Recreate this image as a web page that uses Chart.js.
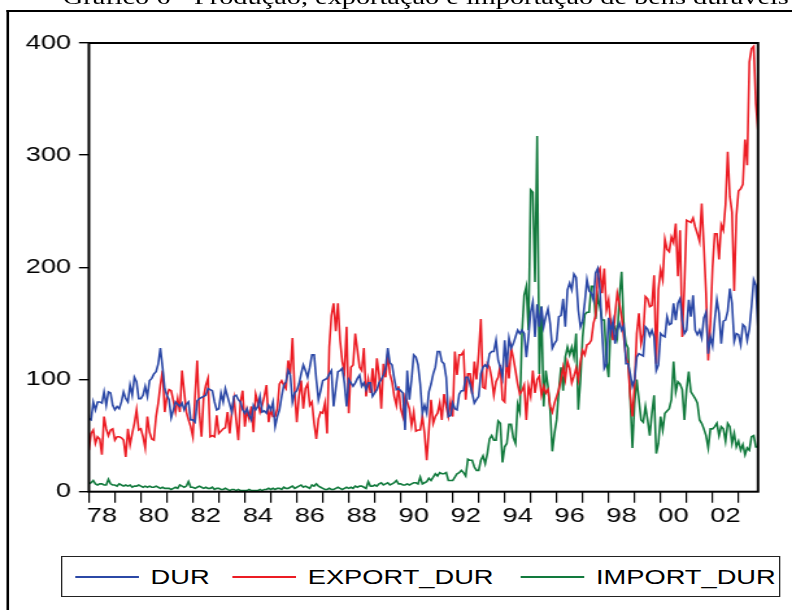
<!DOCTYPE html>
<html>
<head>
<meta charset="utf-8">
<script src="https://cdn.jsdelivr.net/npm/chart.js@4.4.1/dist/chart.umd.min.js"></script>
<style>
  html, body { margin: 0; padding: 0; background: #fff; overflow: hidden; width: 792px; height: 610px; }
  #stage { position: absolute; left: 0; top: 0; width: 610px; height: 610px; transform-origin: 0 0;
           font-family: "Liberation Sans", Arial, sans-serif; }
  #frame { position: absolute; left: 5.4px; top: 10px; width: 800px; height: 800px;
           border-left: 2px solid #000; border-top: 2px solid #000; }
  #title { position: absolute; top: -15px; left: 0; width: 656px; text-align: center; white-space: nowrap;
           font: 21.8px/25px "Liberation Serif", "Times New Roman", serif; color: #000; }
  #chartBox { position: absolute; left: 0; top: 0; width: 610px; height: 610px; }
  #legend { position: absolute; left: 47px; top: 556px; width: 554px; height: 41px;
            border: 1px solid #222; box-sizing: border-box; background: #fff; }
  #legend .swatch { position: absolute; top: 19px; height: 1.5px; }
  #legend .name { position: absolute; top: 0; line-height: 39px; font-size: 21px; color: #000; white-space: nowrap; }
</style>
</head>
<body>
<div id="stage">
  <div id="title">Gráfico 6 - Produção, exportação e importação de bens duráveis</div>
  <div id="frame"></div>
  <div id="chartBox"><canvas id="myChart"></canvas></div>
  <div id="legend"></div>
</div>
<script>
// monthly series, 1978:01 onwards
const startYear = 1978

const dur = [
  65, 64, 80, 73, 80, 80, 79, 89, 77, 89, 88, 77,
  73, 76, 74, 80, 89, 83, 80, 95, 86, 102, 98, 83,
  83, 86, 94, 85, 99, 101, 105, 107, 114, 128, 111, 92,
  86, 82, 66, 73, 80, 78, 76, 79, 73, 78, 80, 64,
  64, 62, 81, 83, 84, 85, 86, 92, 91, 90, 80, 73,
  74, 88, 80, 92, 85, 78, 71, 85, 86, 82, 80, 73,
  70, 74, 68, 64, 77, 73, 76, 85, 71, 72, 70, 77,
  73, 80, 58, 67, 73, 85, 95, 98, 108, 104, 80, 88,
  90, 96, 105, 113, 108, 102, 111, 122, 122, 100, 82, 90,
  99, 100, 101, 105, 108, 76, 92, 107, 108, 110, 97, 76,
  100, 97, 94, 97, 101, 104, 94, 97, 91, 97, 97, 85,
  88, 91, 97, 100, 104, 110, 128, 115, 113, 101, 91, 92,
  90, 88, 55, 108, 82, 100, 122, 120, 113, 96, 70, 77,
  70, 89, 96, 105, 111, 125, 125, 116, 114, 102, 67, 68,
  79, 74, 73, 87, 90, 90, 102, 102, 96, 88, 79, 82,
  85, 105, 111, 113, 111, 123, 125, 125, 135, 117, 111, 102,
  135, 111, 137, 128, 132, 138, 144, 141, 144, 141, 120, 138,
  160, 169, 138, 167, 147, 165, 147, 156, 163, 150, 128, 132,
  135, 156, 157, 172, 147, 180, 186, 180, 194, 191, 162, 147,
  152, 169, 189, 179, 177, 171, 195, 199, 180, 141, 110, 114,
  155, 142, 152, 132, 144, 150, 144, 148, 114, 114, 105, 94,
  100, 120, 123, 122, 121, 147, 145, 139, 144, 138, 108, 113,
  141, 139, 138, 156, 149, 150, 168, 153, 168, 172, 153, 141,
  144, 171, 156, 175, 144, 140, 144, 137, 155, 160, 123, 138,
  130, 153, 171, 159, 132, 152, 153, 161, 181, 168, 134, 141,
  140, 131, 149, 147, 135, 145, 165, 189, 184, 147
]

const exportDur = [
  37, 52, 55, 43, 49, 47, 33, 67, 56, 50, 55, 56,
  46, 49, 49, 48, 46, 31, 56, 42, 52, 61, 73, 55,
  56, 49, 39, 67, 53, 47, 46, 67, 79, 95, 108, 71,
  85, 91, 90, 81, 71, 83, 71, 108, 89, 71, 64, 58,
  49, 85, 117, 70, 49, 85, 95, 101, 49, 50, 49, 68,
  52, 54, 56, 57, 71, 52, 71, 83, 64, 46, 80, 90,
  58, 73, 65, 76, 53, 87, 80, 71, 77, 85, 95, 62,
  73, 67, 67, 74, 96, 99, 95, 92, 117, 105, 137, 90,
  62, 85, 99, 74, 92, 96, 77, 80, 61, 47, 65, 71,
  70, 79, 52, 129, 157, 168, 143, 168, 135, 116, 107, 147,
  70, 111, 113, 141, 126, 111, 108, 128, 85, 100, 88, 110,
  88, 119, 104, 74, 114, 102, 123, 105, 98, 85, 77, 94,
  74, 67, 85, 80, 74, 59, 71, 54, 55, 55, 67, 52,
  28, 55, 82, 61, 67, 70, 79, 64, 87, 76, 67, 80,
  67, 125, 104, 122, 122, 125, 82, 105, 105, 87, 116, 100,
  123, 154, 93, 92, 114, 111, 101, 86, 98, 102, 113, 82,
  80, 120, 101, 128, 119, 108, 96, 87, 90, 95, 64, 94,
  85, 108, 88, 100, 103, 86, 94, 88, 91, 76, 71, 79,
  85, 91, 100, 111, 100, 116, 110, 97, 103, 110, 100, 116,
  126, 122, 131, 132, 135, 150, 157, 195, 199, 177, 199, 162,
  171, 149, 135, 159, 177, 168, 156, 138, 120, 114, 85, 67,
  95, 141, 159, 132, 141, 174, 172, 165, 166, 193, 114, 180,
  198, 189, 225, 216, 214, 227, 222, 239, 192, 233, 138, 183,
  242, 241, 240, 244, 236, 230, 223, 257, 219, 177, 117, 150,
  200, 230, 230, 207, 238, 233, 256, 303, 263, 249, 179, 246,
  268, 270, 274, 314, 291, 383, 395, 397, 346, 322
]

const importDur = [
  7, 8, 10, 7, 6, 7, 7, 6, 6, 11, 7, 6,
  6, 5, 7, 6, 5, 6, 5, 6, 4, 5, 5, 6,
  5, 4, 5, 4, 5, 4, 4, 5, 4, 3, 4, 3,
  3, 3, 2, 3, 4, 3, 6, 5, 4, 5, 9, 4,
  4, 3, 4, 5, 4, 3, 4, 3, 3, 4, 2, 3,
  3, 2, 2, 3, 2, 1, 2, 2, 1, 2, 1, 1,
  1, 1, 2, 1, 1, 1, 1, 2, 1, 2, 2, 3,
  2, 3, 2, 3, 3, 2, 4, 3, 3, 4, 5, 3,
  4, 5, 6, 4, 5, 4, 3, 6, 5, 7, 5, 4,
  3, 2, 2, 3, 2, 2, 3, 4, 3, 2, 3, 4,
  3, 4, 3, 5, 4, 5, 5, 4, 3, 9, 5, 5,
  6, 5, 7, 8, 6, 7, 8, 6, 7, 8, 10, 7,
  7, 6, 6, 7, 6, 7, 8, 8, 7, 13, 7, 8,
  9, 12, 10, 13, 16, 14, 17, 16, 16, 17, 10, 10,
  10, 13, 16, 17, 19, 17, 14, 29, 28, 28, 22, 19,
  19, 28, 32, 25, 34, 47, 50, 46, 46, 63, 61, 26,
  40, 43, 60, 60, 48, 43, 78, 71, 141, 175, 183, 144,
  269, 267, 187, 317, 105, 165, 76, 108, 94, 73, 36, 52,
  64, 90, 111, 90, 120, 129, 122, 129, 120, 141, 73, 100,
  138, 158, 160, 160, 183, 183, 154, 174, 165, 153, 153, 117,
  102, 151, 145, 147, 138, 174, 196, 147, 132, 128, 82, 39,
  79, 100, 82, 64, 62, 76, 64, 50, 70, 86, 34, 43,
  67, 55, 70, 72, 74, 82, 116, 89, 98, 96, 91, 64,
  91, 107, 89, 86, 83, 79, 64, 61, 56, 50, 39, 56,
  56, 58, 61, 50, 58, 56, 45, 61, 58, 43, 52, 40,
  45, 37, 42, 33, 39, 37, 49, 50, 40, 40
]

const seriesNames = ['DUR', 'EXPORT_DUR', 'IMPORT_DUR']
const seriesColors = ['#2b48a6', '#ec1c24', '#127a3d']
const yTicks = [0, 100, 200, 300, 400]

// the whole drawing is a bit wider than tall, stretch it sideways
const stretch = 792 / 610
document.getElementById('stage').style.transform = 'scaleX(' + stretch + ')'

const months = dur.map((v, i) => startYear + i / 12)
const lastX = months[months.length - 1]
const years = []
for (let y = startYear; y <= Math.floor(lastX); y++) years.push(y)

// plot box in stage units
const plotLeft = 88.9 / stretch
const plotRight = 758 / stretch
const halfYear = (plotRight - plotLeft) / (lastX - startYear) / 2

// legend below the plot
const legendPos = [[57, 106, 115], [178, 227, 236], [400, 449, 458]]
const legend = document.getElementById('legend')
seriesNames.forEach((name, i) => {
  const line = document.createElement('div')
  line.className = 'swatch'
  line.style.left = (legendPos[i][0] - 47) + 'px'
  line.style.width = (legendPos[i][1] - legendPos[i][0]) + 'px'
  line.style.background = seriesColors[i]
  legend.appendChild(line)
  const txt = document.createElement('div')
  txt.className = 'name'
  txt.style.left = (legendPos[i][2] - 47) + 'px'
  txt.textContent = name
  legend.appendChild(txt)
})

const plotFrame = {
  id: 'plotFrame',
  afterDatasetsDraw(chart) {
    const { ctx, chartArea: a } = chart
    ctx.save()
    ctx.strokeStyle = '#000'
    ctx.lineWidth = 2
    ctx.strokeRect(a.left, a.top, a.right - a.left, a.bottom - a.top)
    ctx.restore()
  }
}

Chart.defaults.font.family = '"Liberation Sans", Arial, sans-serif'
Chart.defaults.color = '#000'

const ctx = document.getElementById('myChart')
const allSeries = [dur, exportDur, importDur]

const myChart = new Chart(ctx, {
  type: 'line',
  data: {
    labels: months,
    datasets: allSeries.map((vals, i) => ({
      label: seriesNames[i],
      data: vals,
      borderColor: seriesColors[i],
      borderWidth: 1.6,
      pointRadius: 0,
      tension: 0,
      fill: false
    }))
  },
  options: {
    responsive: true,
    maintainAspectRatio: false,
    animation: false,
    events: [],
    layout: { padding: { left: plotLeft - 50, right: 610 - plotRight, top: 43, bottom: 610 - 491.7 - 40 } },
    plugins: { legend: { display: false }, tooltip: { enabled: false } },
    scales: {
      x: {
        type: 'linear',
        min: startYear,
        max: lastX,
        afterBuildTicks: scale => { scale.ticks = years.map(v => ({ value: v })) },
        afterFit: scale => { scale.height = 40 },
        border: { display: false },
        grid: { drawOnChartArea: false, tickLength: 11, color: '#000', lineWidth: 1.2 },
        ticks: {
          autoSkip: false,
          maxRotation: 0,
          labelOffset: halfYear,
          padding: 1,
          font: { size: 21 },
          callback: v => (v % 2 === 0 ? String(v).slice(2) : '')
        }
      },
      y: {
        min: 0,
        max: 400,
        afterBuildTicks: scale => { scale.ticks = yTicks.map(v => ({ value: v })) },
        afterFit: scale => { scale.width = 50 },
        border: { display: false },
        grid: { drawOnChartArea: false, tickLength: 10 / stretch, color: '#000', lineWidth: 1.4 },
        ticks: { padding: 6, font: { size: 21 } }
      }
    }
  },
  plugins: [plotFrame]
})
</script>
</body>
</html>
